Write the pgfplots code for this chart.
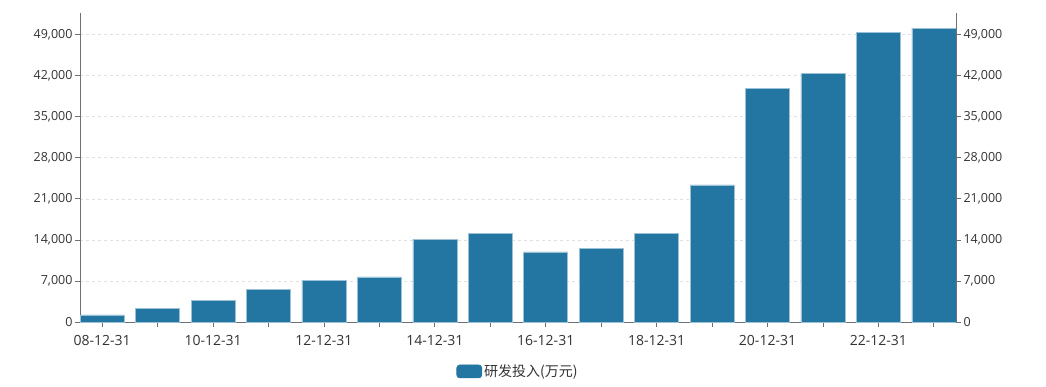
\documentclass[border=0pt]{standalone}
\usepackage{pgfplots}
\pgfplotsset{compat=1.18}
\usepackage{fontspec}
\setmainfont{Open Sans}
\newfontfamily\cjk{Noto Sans CJK SC}
\definecolor{barcol}{HTML}{2376A2}
\definecolor{axcol}{HTML}{6E7079}
\definecolor{txtcol}{HTML}{333333}
\definecolor{gridcol}{HTML}{E0E0E0}
\begin{document}
\begin{tikzpicture}
\pgfplotsset{
  base/.style={
    scale only axis, width=876pt, height=309pt,
    xmin=-0.4, xmax=15.4, ymin=0, ymax=52700,
    ytick={0,7000,14000,21000,28000,35000,42000,49000},
    scaled y ticks=false,
    /pgf/number format/assume math mode=true,
    /pgf/number format/.cd, fixed, 1000 sep={,}, /pgfplots/.cd,
    tick align=outside, major tick length=5pt,
    axis line style={axcol, line width=0.8pt},
    every tick/.style={axcol, line width=0.8pt},
    tick label style={font=\fontsize{12.5}{14}\selectfont, text=txtcol},
  }
}
\begin{axis}[base, name=ax,
  axis x line*=bottom, axis y line*=left,
  xtick={0,...,15},
  xticklabels={08-12-31,,10-12-31,,12-12-31,,14-12-31,,16-12-31,,18-12-31,,20-12-31,,22-12-31,},
  ymajorgrids, grid style={gridcol, dashed, line width=0.7pt},
  yticklabel style={xshift=1pt},
  xticklabel style={yshift=-4.5pt, font=\fontsize{14}{16}\selectfont},
  legend style={at={(0.5,-0.160)}, anchor=center, draw=none, fill=none,
    font=\cjk\fontsize{14}{16}\selectfont, text=txtcol,
    legend cell align=left},
  legend image code/.code={\fill[barcol, rounded corners=3pt] (-2pt,-6.5pt) rectangle (23pt,6.5pt);},
]
\addplot[ybar, bar width=0.794, fill=barcol, draw=barcol!45!white, line width=0.6pt, bar shift=0pt]
coordinates {
(0,1200) (1,2340) (2,3640) (3,5580) (4,7110) (5,7680) (6,14120) (7,15080)
(8,11950) (9,12520) (10,15140) (11,23390) (12,39900) (13,42340) (14,49340) (15,50140)
};
\addlegendentry{研发投入(万元)}
\end{axis}
\begin{axis}[base,
  axis x line=none, axis y line*=right,
  yticklabel style={xshift=-1pt},
]
\addplot[draw=none] coordinates {(0,0)};
\end{axis}
\useasboundingbox ([shift={(-80pt,-64pt)}]ax.south west) rectangle ([shift={(90pt,13pt)}]ax.north east);
\end{tikzpicture}
\end{document}
